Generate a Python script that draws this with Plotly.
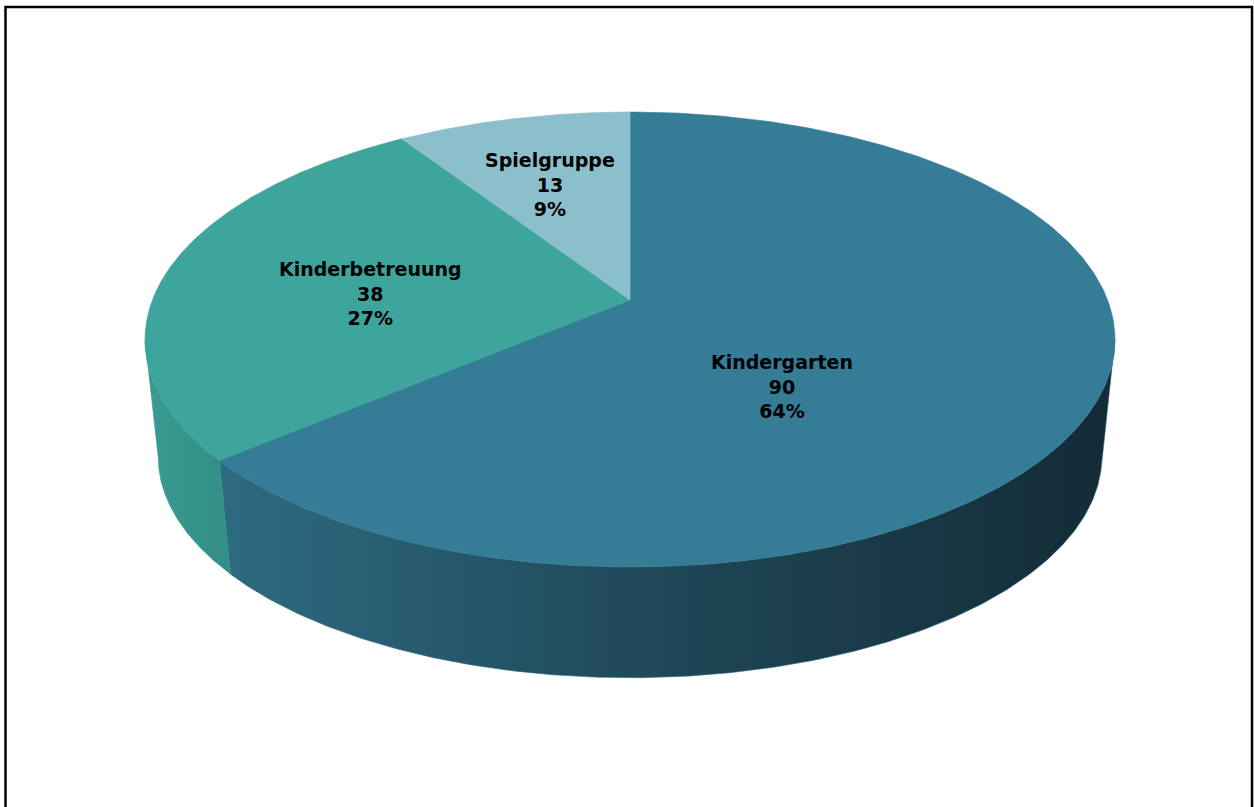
import numpy as np
import plotly.graph_objects as go

# ---- data ----
categories = ["Kindergarten", "Kinderbetreuung", "Spielgruppe"]
values = [90, 38, 13]

# ---- style ----
top_colors = ["#357C96", "#3DA59B", "#8BBFCC"]
side_gradients = [
    [[0, "#2D6B81"], [0.5, "#1F4757"], [1, "#132B36"]],
    [[0, "#389B91"], [1, "#338E85"]],
    [[0, "#7FAFBB"], [1, "#6E9AA5"]],
]
W, H = 1254, 807
# perspective projection of the pie disc
CX = 630          # horizontal centre
Y_APEX = 300      # projected centre of top face
A_X = 477.6       # horizontal scale
B_Y = 220.6       # vertical scale
K = 0.1736        # perspective strength
BOTTOM_SCALE = 0.973
Y_APEX_BOTTOM = 418
LABEL_POS = [(782, 386), (370, 293), (550, 184)]

total = sum(values)
fracs = [v / total for v in values]
starts = np.cumsum([0] + fracs[:-1]) * 360.0
ends = starts + np.array(fracs) * 360.0


def proj(theta_deg, bottom=False):
    t = np.radians(theta_deg)
    u = np.sin(t)
    v = -np.cos(t)  # +1 = nearest to viewer
    den = 1 - K * v
    s = BOTTOM_SCALE if bottom else 1.0
    y0 = Y_APEX_BOTTOM if bottom else Y_APEX
    return CX + s * A_X * u / den, y0 + s * B_Y * v / den


# silhouette angles (where the outline is widest)
sil = np.degrees(np.arccos(-K))  # ~100 deg
vis_lo, vis_hi = sil, 360.0 - sil

fig = go.Figure()

# side faces
for i, (a, b) in enumerate(zip(starts, ends)):
    lo, hi = max(a, vis_lo), min(b, vis_hi)
    if hi <= lo:
        continue
    th = np.linspace(lo, hi, 240)
    xt, yt = proj(th)
    xb, yb = proj(th[::-1], bottom=True)
    xs = np.concatenate([xt, xb, xt[:1]])
    ys = np.concatenate([yt, yb, yt[:1]])
    fig.add_trace(go.Scatter(
        x=xs, y=ys, mode="lines", fill="toself",
        line=dict(width=0.6, color=side_gradients[i][0][1]),
        fillgradient=dict(type="horizontal", colorscale=side_gradients[i]),
        hoverinfo="skip", showlegend=False))

# top faces
for i, (a, b) in enumerate(zip(starts, ends)):
    th = np.linspace(a, b, 360)
    xa, ya = proj(th)
    xs = np.concatenate([[CX], xa, [CX]])
    ys = np.concatenate([[Y_APEX], ya, [Y_APEX]])
    fig.add_trace(go.Scatter(
        x=xs, y=ys, mode="lines", fill="toself",
        fillcolor=top_colors[i],
        line=dict(width=0.6, color=top_colors[i]),
        hoverinfo="skip", showlegend=False, name=categories[i]))

annotations = []
for i, cat in enumerate(categories):
    pct = round(values[i] / total * 100)
    lx, ly = LABEL_POS[i]
    annotations.append(dict(
        x=lx, y=ly, xref="x", yref="y",
        text=f"<b>{cat}<br>{values[i]}<br>{pct}%</b>",
        showarrow=False, align="center",
        font=dict(family="DejaVu Sans", size=19, color="#000000")))

fig.update_layout(
    width=W, height=H,
    margin=dict(l=0, r=0, t=0, b=0),
    paper_bgcolor="white", plot_bgcolor="white",
    xaxis=dict(range=[0, W], visible=False, fixedrange=True),
    yaxis=dict(range=[H, 0], visible=False, fixedrange=True),
    annotations=annotations,
    shapes=[dict(type="rect", xref="x", yref="y", x0=5.5, y0=7, x1=1252, y1=830,
                 line=dict(color="#000000", width=2.5), fillcolor="rgba(0,0,0,0)",
                 layer="above")],
    showlegend=False,
)

fig.write_html("out.html")
